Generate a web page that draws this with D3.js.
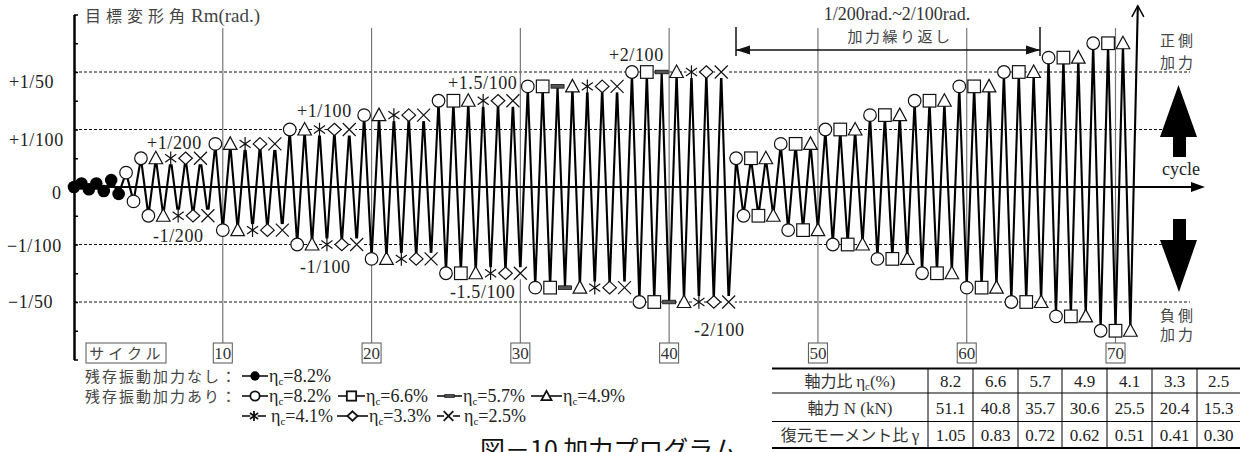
<!DOCTYPE html>
<html><head><meta charset="utf-8">
<script src="https://cdn.jsdelivr.net/npm/d3@7"></script>
<style>body{margin:0;background:#fff} svg{display:block}</style>
</head><body>
<svg id="c" width="1250" height="452"></svg>
<script>
// ---------------- data ----------------
const noResidualPeaks = [0, 0.0006, -0.0004, 0.0006, -0.0007, 0.0012, -0.0012];
const groupAmplitudes = [0.0025, 0.005, 0.0075, 0.01, 0.0125, 0.015, 0.0175, 0.02,
  0.005, 0.0075, 0.01, 0.0125, 0.015, 0.0175, 0.02, 0.0225, 0.025];
const groupMarkers = ["o", "otadx", "otadx", "otadx", "otadx", "ostadx", "osbtadx", "osbtadx",
  "ost", "ost", "ost", "ost", "ost", "ost", "ost", "ost", "ost"];
const finalValue = 0.0315;
const yMinorTicks = [-0.03,-0.025,-0.02,-0.015,-0.01,-0.005,0,0.005,0.01,0.015,0.02,0.025,0.03];
const yTickValues = [0.02, 0.01, 0, -0.01, -0.02];
const yTickLabels = ["+1/50", "+1/100", "0", "\u22121/100", "\u22121/50"];
const cycleTicks = [10, 20, 30, 40, 50, 60, 70];
const etaValues = ["8.2", "6.6", "5.7", "4.9", "4.1", "3.3", "2.5"];
const axialForce = ["51.1", "40.8", "35.7", "30.6", "25.5", "20.4", "15.3"];
const momentRatio = ["1.05", "0.83", "0.72", "0.62", "0.51", "0.41", "0.30"];
const ampLabels = ["+1/200", "-1/200", "+1/100", "-1/100", "+1.5/100", "-1.5/100", "+2/100", "-2/100"];

// ---------------- layout ----------------
const svg = d3.select("#c");
const SERIF = "'Liberation Serif','Times New Roman',serif";
const JP = "'Noto Sans CJK JP','Noto Sans',sans-serif";
const x = d3.scaleLinear().domain([0, 70]).range([74, 1115.5]);
const y = d3.scaleLinear().domain([-0.03, 0.03]).range([359.5, 14.5]);

// build peak sequence
const peaks = [];
noResidualPeaks.forEach(v => peaks.push({v, m: "f"}));
groupAmplitudes.forEach((a, g) => {
  for (const m of groupMarkers[g]) { peaks.push({v: a, m}); peaks.push({v: -a, m}); }
});
peaks.push({v: finalValue, m: null});
peaks.forEach((p, i) => { p.c = i / 2; });

// dashed grid
svg.append("g").selectAll("line").data(yTickValues.filter(v => v !== 0)).join("line")
  .attr("x1", x(0)).attr("x2", 1190).attr("y1", d => y(d)).attr("y2", d => y(d))
  .attr("stroke", "#111").attr("stroke-width", 1).attr("stroke-dasharray", "3,2");

// cycle vertical lines + boxes
const cg = svg.append("g");
cg.selectAll("line").data(cycleTicks).join("line")
  .attr("x1", d => x(d)).attr("x2", d => x(d)).attr("y1", 28).attr("y2", 343)
  .attr("stroke", "#777").attr("stroke-width", 1.2);
cg.selectAll("rect").data(cycleTicks).join("rect")
  .attr("x", d => x(d) - 9.5).attr("y", 343).attr("width", 19).attr("height", 20)
  .attr("fill", "#fff").attr("stroke", "#555").attr("stroke-width", 1);
cg.selectAll("text").data(cycleTicks).join("text")
  .attr("x", d => x(d)).attr("y", 359).attr("text-anchor", "middle")
  .attr("font-family", SERIF).attr("font-size", 17).attr("fill", "#333").text(d => d);

// x axis (zero line with arrow)
svg.append("line").attr("x1", x(0)).attr("x2", 1195).attr("y1", y(0)).attr("y2", y(0))
  .attr("stroke", "#000").attr("stroke-width", 2);
svg.append("path").attr("d", `M1191,${y(0)-5}L1205,${y(0)}L1191,${y(0)+5}Z`).attr("fill", "#000");

// waveform
const line = d3.line().x(d => x(d.c)).y(d => y(d.v));
svg.append("path").datum(peaks).attr("d", line).attr("fill", "none")
  .attr("stroke", "#000").attr("stroke-width", 2.1);
const last = peaks[peaks.length - 1];
svg.append("path")
  .attr("d", `M${x(last.c)-6},${y(last.v)+11}L${x(last.c)},${y(last.v)}L${x(last.c)+6},${y(last.v)+11}`)
  .attr("fill", "none").attr("stroke", "#000").attr("stroke-width", 1.5);

// marker drawing
function drawMarker(g, m, cx, cy, s, sw) {
  const k = s / 6.5;
  const st = {stroke: "#111", "stroke-width": sw};
  const ap = (sel, o) => { for (const key in o) sel.attr(key, o[key]); return sel; };
  if (m === "f") ap(g.append("circle").attr("cx", cx).attr("cy", cy).attr("r", 6.3 * k).attr("fill", "#000"), {});
  else if (m === "o") ap(g.append("circle").attr("cx", cx).attr("cy", cy).attr("r", 6.3 * k).attr("fill", "#fff"), st);
  else if (m === "s") ap(g.append("rect").attr("x", cx - 6.3 * k).attr("y", cy - 6.3 * k)
      .attr("width", 12.6 * k).attr("height", 12.6 * k).attr("fill", "#fff"), st);
  else if (m === "b") ap(g.append("rect").attr("x", cx - 6.5 * k).attr("y", cy - 1.8 * k)
      .attr("width", 13 * k).attr("height", 3.6 * k).attr("fill", "#555"), {stroke: "#111", "stroke-width": 0.8});
  else if (m === "t") ap(g.append("path").attr("d",
      `M${cx},${cy - 7 * k}L${cx + 6.8 * k},${cy + 5.5 * k}L${cx - 6.8 * k},${cy + 5.5 * k}Z`).attr("fill", "#fff"), st);
  else if (m === "d") ap(g.append("path").attr("d",
      `M${cx},${cy - 6.3 * k}L${cx + 6.8 * k},${cy}L${cx},${cy + 6.3 * k}L${cx - 6.8 * k},${cy}Z`).attr("fill", "#fff"), st);
  else if (m === "x") {
    g.append("rect").attr("x", cx - 6 * k).attr("y", cy - 6 * k).attr("width", 12 * k).attr("height", 12 * k).attr("fill", "#fff");
    ap(g.append("path").attr("d",
      `M${cx - 6.5 * k},${cy - 6.5 * k}L${cx + 6.5 * k},${cy + 6.5 * k}M${cx + 6.5 * k},${cy - 6.5 * k}L${cx - 6.5 * k},${cy + 6.5 * k}`).attr("fill", "none"), st);
  } else if (m === "a") {
    g.append("rect").attr("x", cx - 5 * k).attr("y", cy - 6 * k).attr("width", 10 * k).attr("height", 12 * k).attr("fill", "#fff");
    const r = 6.8 * k, dx = r * Math.sin(Math.PI / 3.3), dy = r * Math.cos(Math.PI / 3.3);
    ap(g.append("path").attr("d",
      `M${cx},${cy - r}L${cx},${cy + r}M${cx - dx},${cy - dy}L${cx + dx},${cy + dy}M${cx + dx},${cy - dy}L${cx - dx},${cy + dy}`)
      .attr("fill", "none"), st);
  }
}
const mg = svg.append("g");
peaks.filter(p => p.m).forEach(p => drawMarker(mg, p.m, x(p.c), y(p.v), 6.5, 1.2));

// y axis
const yAxis = d3.axisRight(y).tickValues(yMinorTicks).tickSize(4).tickSizeOuter(0).tickFormat("");
const ya = svg.append("g").attr("transform", `translate(${x(0)},0)`).call(yAxis);
ya.select(".domain").attr("stroke", "#000").attr("stroke-width", 2.5);
ya.selectAll(".tick line").attr("stroke", "#000").attr("stroke-width", 1.5);

const yLabX = [9, 9, 52, 7, 8];
const yLabDy = [16, 16, 12, 7, 6];
svg.append("g").selectAll("text").data(yTickValues).join("text")
  .attr("x", (d, i) => yLabX[i]).attr("y", (d, i) => y(d) + yLabDy[i])
  .attr("font-family", SERIF).attr("font-size", 18).attr("letter-spacing", 0.6).attr("fill", "#222")
  .text((d, i) => yTickLabels[i]);

// y title
const yt = svg.append("text").attr("x", 85).attr("y", 22).attr("fill", "#444");
yt.append("tspan").attr("font-family", JP).attr("font-size", 16).attr("letter-spacing", 5).text("目標変形角");
yt.append("tspan").attr("font-family", SERIF).attr("font-size", 19).attr("dx", 1).text("Rm(rad.)");

// amplitude annotations
const ampPos = [[147, 149], [153, 242], [297, 117], [300, 273], [448, 89], [450, 298], [609, 61], [694, 336]];
svg.append("g").selectAll("text").data(ampLabels).join("text")
  .attr("x", (d, i) => ampPos[i][0]).attr("y", (d, i) => ampPos[i][1])
  .attr("font-family", SERIF).attr("font-size", 18).attr("letter-spacing", 0.6).attr("fill", "#222").text(d => d);

// repetition annotation
const ra = svg.append("g");
ra.append("text").attr("x", 897).attr("y", 20).attr("text-anchor", "middle")
  .attr("font-family", SERIF).attr("font-size", 18).attr("fill", "#333").text("1/200rad.~2/100rad.");
ra.append("text").attr("x", 900).attr("y", 42).attr("text-anchor", "middle")
  .attr("font-family", JP).attr("font-size", 15).attr("letter-spacing", 2.5).attr("fill", "#444").text("加力繰り返し");
ra.append("line").attr("x1", 736).attr("x2", 1040).attr("y1", 50).attr("y2", 50).attr("stroke", "#111").attr("stroke-width", 1.5);
ra.append("line").attr("x1", 736).attr("x2", 736).attr("y1", 27).attr("y2", 56).attr("stroke", "#111").attr("stroke-width", 1.5);
ra.append("line").attr("x1", 1040).attr("x2", 1040).attr("y1", 27).attr("y2", 56).attr("stroke", "#111").attr("stroke-width", 1.5);
ra.append("path").attr("d", "M736,50L750,45.5L750,54.5Z").attr("fill", "#111");
ra.append("path").attr("d", "M1040,50L1026,45.5L1026,54.5Z").attr("fill", "#111");

// right side annotations
const rs = svg.append("g").attr("font-family", JP).attr("font-size", 15).attr("letter-spacing", 3).attr("fill", "#444");
rs.append("text").attr("x", 1160).attr("y", 46).text("正側");
rs.append("text").attr("x", 1160).attr("y", 68).text("加力");
rs.append("text").attr("x", 1160).attr("y", 321).text("負側");
rs.append("text").attr("x", 1160).attr("y", 340).text("加力");
svg.append("text").attr("x", 1162).attr("y", 175).attr("font-family", SERIF).attr("font-size", 18).attr("fill", "#222").text("cycle");
svg.append("path").attr("d", "M1178.5,85L1197,137L1186,137L1186,157L1173,157L1173,137L1160,137Z").attr("fill", "#000");
svg.append("path").attr("d", "M1173,219L1186,219L1186,240L1197,240L1179,292L1160,240L1173,240Z").attr("fill", "#000");

// legend
const lg = svg.append("g");
lg.append("rect").attr("x", 86).attr("y", 343).attr("width", 80).attr("height", 20).attr("fill", "#fff").attr("stroke", "#555");
lg.append("text").attr("x", 127).attr("y", 359).attr("text-anchor", "middle").attr("font-family", JP)
  .attr("font-size", 15).attr("letter-spacing", 4).attr("fill", "#444").text("サイクル");
lg.append("text").attr("x", 85).attr("y", 382).attr("font-family", JP).attr("font-size", 15).attr("letter-spacing", 2).attr("fill", "#444").text("残存振動加力なし：");
lg.append("text").attr("x", 85).attr("y", 402).attr("font-family", JP).attr("font-size", 15).attr("letter-spacing", 2).attr("fill", "#444").text("残存振動加力あり：");
const legendItems = [
  {m: "f", x0: 242, w: 26, tx: 269, row: 0, eta: 0},
  {m: "o", x0: 242, w: 26, tx: 269, row: 1, eta: 0},
  {m: "s", x0: 338, w: 27, tx: 366, row: 1, eta: 1},
  {m: "b", x0: 437, w: 25, tx: 463, row: 1, eta: 2},
  {m: "t", x0: 531, w: 31, tx: 563, row: 1, eta: 3},
  {m: "a", x0: 242, w: 24, tx: 271, row: 2, eta: 4},
  {m: "d", x0: 337, w: 31, tx: 369, row: 2, eta: 5},
  {m: "x", x0: 437, w: 23, tx: 464, row: 2, eta: 6}
];
const rowBase = [382, 402, 422];
legendItems.forEach(it => {
  const by = rowBase[it.row], cy = by - 6;
  lg.append("line").attr("x1", it.x0).attr("x2", it.x0 + it.w).attr("y1", cy).attr("y2", cy)
    .attr("stroke", "#000").attr("stroke-width", 1.5);
  drawMarker(lg, it.m, it.x0 + it.w / 2, cy, 4.8, 1.8);
  const t = lg.append("text").attr("x", it.tx).attr("y", by).attr("font-family", SERIF).attr("font-size", 18).attr("fill", "#222");
  t.append("tspan").text("η");
  t.append("tspan").attr("font-size", 11).attr("dy", 3).text("c");
  t.append("tspan").attr("dy", -3).text("=" + etaValues[it.eta] + "%");
});

// caption
svg.append("text").attr("x", 480).attr("y", 459).attr("font-family", JP).attr("font-size", 25)
  .attr("fill", "#111").text("図－10 加力プログラム");

// table
const tb = svg.append("g");
const colEdges = [928, 973, 1018, 1062, 1107, 1152, 1197, 1240];
[[368.5, 2], [393, 1], [421.5, 1], [448, 2]].forEach(([yy, w]) =>
  tb.append("line").attr("x1", 772).attr("x2", 1240).attr("y1", yy).attr("y2", yy).attr("stroke", "#000").attr("stroke-width", w));
colEdges.slice(0, 7).forEach(cx =>
  tb.append("line").attr("x1", cx).attr("x2", cx).attr("y1", 368.5).attr("y2", 448).attr("stroke", "#000").attr("stroke-width", 1));
const rowsBase = [387, 414, 441];
const h1 = tb.append("text").attr("x", 850).attr("y", rowsBase[0]).attr("text-anchor", "middle").attr("fill", "#333");
h1.append("tspan").attr("font-family", JP).attr("font-size", 16).text("軸力比 ");
h1.append("tspan").attr("font-family", SERIF).attr("font-size", 17).text("η");
h1.append("tspan").attr("font-family", SERIF).attr("font-size", 11).attr("dy", 3).text("c");
h1.append("tspan").attr("font-family", SERIF).attr("font-size", 17).attr("dy", -3).text("(%)");
const h2 = tb.append("text").attr("x", 850).attr("y", rowsBase[1]).attr("text-anchor", "middle").attr("fill", "#333");
h2.append("tspan").attr("font-family", JP).attr("font-size", 16).text("軸力");
h2.append("tspan").attr("font-family", SERIF).attr("font-size", 17).text(" N (kN)");
const h3 = tb.append("text").attr("x", 850).attr("y", rowsBase[2]).attr("text-anchor", "middle").attr("fill", "#333");
h3.append("tspan").attr("font-family", JP).attr("font-size", 16).text("復元モーメント比 ");
h3.append("tspan").attr("font-family", SERIF).attr("font-size", 17).text("γ");
[etaValues, axialForce, momentRatio].forEach((row, r) => {
  tb.append("g").selectAll("text").data(row).join("text")
    .attr("x", (d, i) => (colEdges[i] + colEdges[i + 1]) / 2).attr("y", rowsBase[r])
    .attr("text-anchor", "middle").attr("font-family", SERIF).attr("font-size", 17).attr("fill", "#222").text(d => d);
});
</script>
</body></html>
